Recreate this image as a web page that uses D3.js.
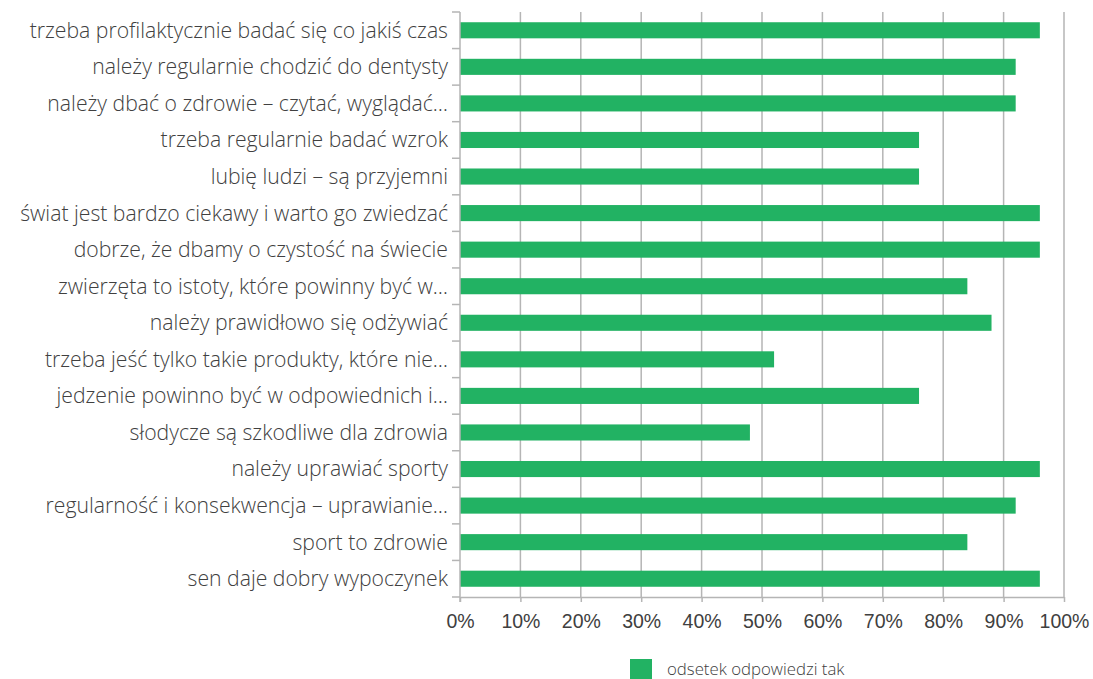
<!DOCTYPE html>
<html><head><meta charset="utf-8">
<script src="https://cdn.jsdelivr.net/npm/d3@7"></script>
<style>body{margin:0;background:#fff;} svg{display:block;font-family:"Open Sans",sans-serif;}</style>
</head><body><svg id="c" width="1093" height="679"></svg>
<script>
const categories = [
"trzeba profilaktycznie badać się co jakiś czas",
"należy regularnie chodzić do dentysty",
"należy dbać o zdrowie – czytać, wyglądać…",
"trzeba regularnie badać wzrok",
"lubię ludzi – są przyjemni",
"świat jest bardzo ciekawy i warto go zwiedzać",
"dobrze, że dbamy o czystość na świecie",
"zwierzęta to istoty, które powinny być w…",
"należy prawidłowo się odżywiać",
"trzeba jeść tylko takie produkty, które nie…",
"jedzenie powinno być w odpowiednich i…",
"słodycze są szkodliwe dla zdrowia",
"należy uprawiać sporty",
"regularność i konsekwencja – uprawianie…",
"sport to zdrowie",
"sen daje dobry wypoczynek"];
const values = [96,92,92,76,76,96,96,84,88,52,76,48,96,92,84,96];
const ticks = [0,10,20,30,40,50,60,70,80,90,100];
const seriesName = "odsetek odpowiedzi tak";

const svg = d3.select("#c");
const x0 = 460, x1 = 1064, yTop = 12, yBot = 597;
const x = d3.scaleLinear().domain([0,100]).range([x0,x1]);
const y = d3.scaleBand().domain(categories).range([yTop,yBot]).paddingInner(0.56).paddingOuter(0.28);
const yb = d3.scaleBand().domain(categories).range([yTop,yBot]);
const grid = "#b5b5b5";

// gridlines
svg.append("g").selectAll("line").data(ticks.slice(1)).join("line")
  .attr("x1",d=>x(d)).attr("x2",d=>x(d)).attr("y1",yTop).attr("y2",yBot)
  .attr("stroke",grid).attr("stroke-width",1.5);

// bars
svg.append("g").selectAll("rect").data(values).join("rect")
  .attr("x",x(0)).attr("y",(d,i)=>y(categories[i]))
  .attr("width",d=>x(d)-x(0)).attr("height",y.bandwidth())
  .attr("fill","#22b263");

// x axis
const xa = svg.append("g").attr("transform",`translate(0,${yBot})`)
  .call(d3.axisBottom(x).tickValues(ticks).tickFormat(d=>d+"%").tickSize(5).tickSizeOuter(0));
xa.select(".domain").attr("stroke",grid).attr("stroke-width",1.5);
xa.selectAll(".tick line").attr("stroke",grid).attr("stroke-width",1.5);
xa.selectAll("text").attr("fill","#404040").attr("font-size",19.5).attr("font-weight",300).attr("y",24).attr("dy","0.35em");

// y axis
const bounds = categories.map(c=>yb(c)).concat([yBot]);
const ya = svg.append("g");
ya.append("line").attr("x1",x0).attr("x2",x0).attr("y1",yTop).attr("y2",yBot+5).attr("stroke",grid).attr("stroke-width",1.5);
ya.selectAll("line.t").data(bounds).join("line").attr("class","t")
  .attr("x1",x0-8).attr("x2",x0).attr("y1",d=>d).attr("y2",d=>d).attr("stroke",grid).attr("stroke-width",1.5);
ya.selectAll("text").data(categories).join("text")
  .attr("x",x0-12).attr("y",d=>yb(d)+yb.bandwidth()/2).attr("dy","0.35em")
  .attr("text-anchor","end").attr("fill","#404040").attr("font-size",21.2).attr("font-weight",300)
  .text(d=>d);

// legend
const lg = svg.append("g");
lg.append("rect").attr("x",630).attr("y",659).attr("width",22).attr("height",20).attr("fill","#22b263");
lg.append("text").attr("x",667).attr("y",669).attr("dy","0.35em").attr("fill","#404040").attr("font-size",16.8).attr("font-weight",300).text(seriesName);
</script></body></html>
